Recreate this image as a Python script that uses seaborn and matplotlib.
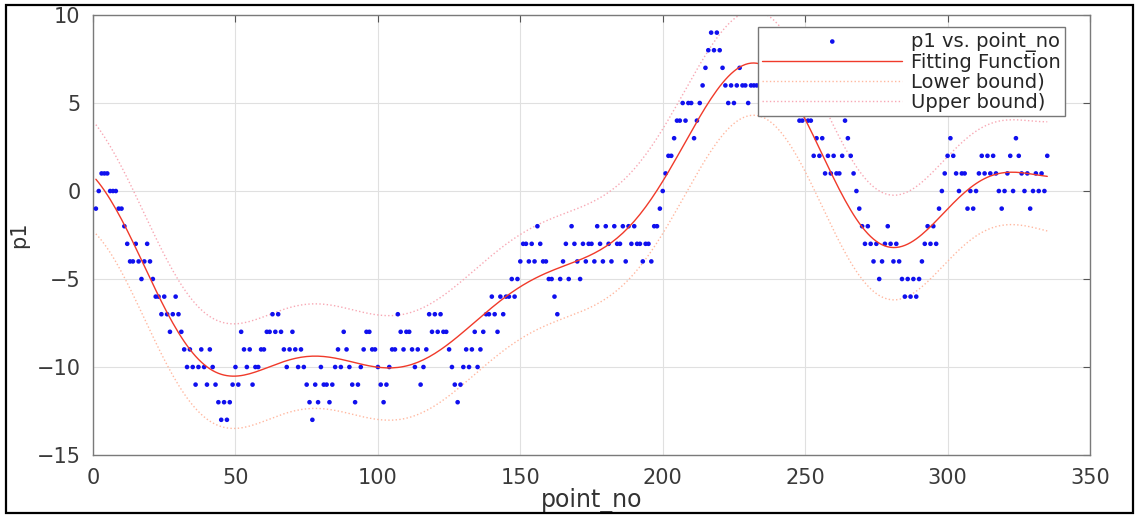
import numpy as np
import pandas as pd
import seaborn as sns
import matplotlib.pyplot as plt
from matplotlib.patches import Rectangle

# --- Data: p1 readings, one per point_no ---
point_no = np.arange(1, 336)
p1 = [
    -1, 0, 1, 1, 1, 0, 0, 0, -1, -1,
    -2, -3, -4, -4, -3, -4, -5, -4, -3, -4,
    -5, -6, -6, -7, -6, -7, -8, -7, -6, -7,
    -8, -9, -10, -9, -10, -11, -10, -9, -10, -11,
    -9, -10, -11, -12, -13, -12, -13, -12, -11, -10,
    -11, -8, -9, -10, -9, -11, -10, -10, -9, -9,
    -8, -8, -7, -8, -7, -8, -9, -10, -9, -8,
    -9, -10, -9, -10, -11, -12, -13, -11, -12, -10,
    -11, -11, -12, -11, -10, -9, -10, -8, -9, -10,
    -11, -12, -11, -10, -9, -8, -8, -9, -9, -10,
    -11, -12, -11, -10, -9, -9, -7, -8, -9, -8,
    -8, -9, -10, -9, -11, -10, -9, -7, -8, -7,
    -8, -7, -8, -8, -9, -10, -11, -12, -11, -10,
    -9, -10, -9, -8, -10, -9, -8, -7, -7, -6,
    -7, -8, -6, -7, -6, -6, -5, -6, -5, -4,
    -3, -3, -4, -3, -4, -2, -3, -4, -4, -5,
    -5, -6, -7, -5, -4, -3, -5, -2, -3, -4,
    -5, -3, -4, -3, -3, -4, -2, -3, -4, -2,
    -3, -4, -2, -3, -3, -2, -4, -2, -3, -2,
    -3, -3, -4, -3, -3, -4, -2, -2, -1, 0,
    1, 2, 2, 3, 4, 4, 5, 4, 5, 5,
    3, 4, 5, 6, 7, 8, 9, 8, 9, 8,
    7, 6, 5, 6, 5, 6, 7, 6, 6, 5,
    6, 6, 6, 6, 5, 6, 5, 7, 6, 5,
    6, 5, 5, 6, 5, 5, 5, 4, 4, 5,
    4, 4, 2, 3, 2, 3, 1, 2, 1, 2,
    1, 1, 2, 4, 3, 2, 1, 0, -1, -2,
    -3, -2, -3, -4, -3, -5, -4, -3, -2, -3,
    -4, -3, -4, -5, -6, -5, -6, -5, -6, -5,
    -4, -3, -2, -3, -2, -3, -1, 0, 1, 2,
    3, 2, 1, 0, 1, 1, -1, 0, -1, 0,
    1, 2, 1, 2, 1, 2, 1, 0, -1, 0,
    1, 2, 0, 3, 2, 1, 0, 1, -1, 0,
    1, 0, 1, 0, 2,
]
assert len(p1) == len(point_no)

x_ticks = [0, 50, 100, 150, 200, 250, 300, 350]
y_ticks = [-15, -10, -5, 0, 5, 10]

# --- Fit: Fourier series, least squares, 95% prediction bounds ---
n_harm = 6
period = 380.0
y = np.asarray(p1, dtype=float)
w = 2 * np.pi / period
cols = [np.ones_like(point_no, dtype=float)]
for k in range(1, n_harm + 1):
    cols += [np.cos(k * w * point_no), np.sin(k * w * point_no)]
X = np.column_stack(cols)
beta, *_ = np.linalg.lstsq(X, y, rcond=None)
fit = X @ beta
n, p = X.shape
s = np.sqrt(np.sum((y - fit) ** 2) / (n - p))
XtX_inv = np.linalg.inv(X.T @ X)
lev = np.sum((X @ XtX_inv) * X, axis=1)
half = 1.97 * s * np.sqrt(1 + lev)

df = pd.DataFrame({"point_no": point_no, "p1": y, "fit": fit,
                   "lower": fit - half, "upper": fit + half})

# --- Plot ---
sns.set_style("whitegrid")
plt.rcParams["font.family"] = ["DejaVu Sans"]

fig = plt.figure(figsize=(11.36, 5.18), dpi=100)
ax = fig.add_axes([0.0819, 0.1216, 0.8776, 0.8494])

sns.scatterplot(data=df, x="point_no", y="p1", ax=ax, color="#1010ee", s=11,
                marker="o", edgecolor="none", label="p1 vs. point_no", zorder=3)
sns.lineplot(data=df, x="point_no", y="fit", ax=ax, color="#f03a2a", lw=1.0,
             label="Fitting Function", zorder=4)
sns.lineplot(data=df, x="point_no", y="lower", ax=ax, color="#ffb8a0", lw=1.0,
             linestyle=":", label="Lower bound)", zorder=2)
sns.lineplot(data=df, x="point_no", y="upper", ax=ax, color="#f8a8b4", lw=1.0,
             linestyle=":", label="Upper bound)", zorder=2)

ax.set_xlim(0, 350)
ax.set_ylim(-15, 10)
ax.set_xticks(x_ticks)
ax.set_yticks(y_ticks)
ax.set_xlabel("point_no", fontsize=17, color="#333333")
ax.set_ylabel("p1", fontsize=15, color="#333333")
ax.xaxis.set_label_coords(0.5, -0.074)
ax.yaxis.set_label_coords(-0.064, 0.5)
ax.tick_params(axis="both", labelsize=15, colors="#555555", direction="in",
               length=5, top=True, right=True, labelcolor="#3a3a3a", pad=9)
ax.grid(True, color="#e0e0e0", lw=0.8)
for sp in ax.spines.values():
    sp.set_color("#7a7a7a")
    sp.set_linewidth(1.0)

leg = ax.legend(loc="upper right", bbox_to_anchor=(0.975, 0.972), borderaxespad=0,
                fontsize=14, frameon=True, fancybox=False, handlelength=7.2,
                labelspacing=0.05, borderpad=0.22, handletextpad=0.45)
leg.get_frame().set_edgecolor("#777777")
leg.get_frame().set_linewidth(1.0)
leg.get_frame().set_alpha(1.0)

# black frame round the screenshot
fig.patches.append(Rectangle((0.0053, 0.0097), 0.992, 0.981, transform=fig.transFigure,
                             fill=False, ec="black", lw=1.6))

fig.savefig("out.png", dpi=100)
